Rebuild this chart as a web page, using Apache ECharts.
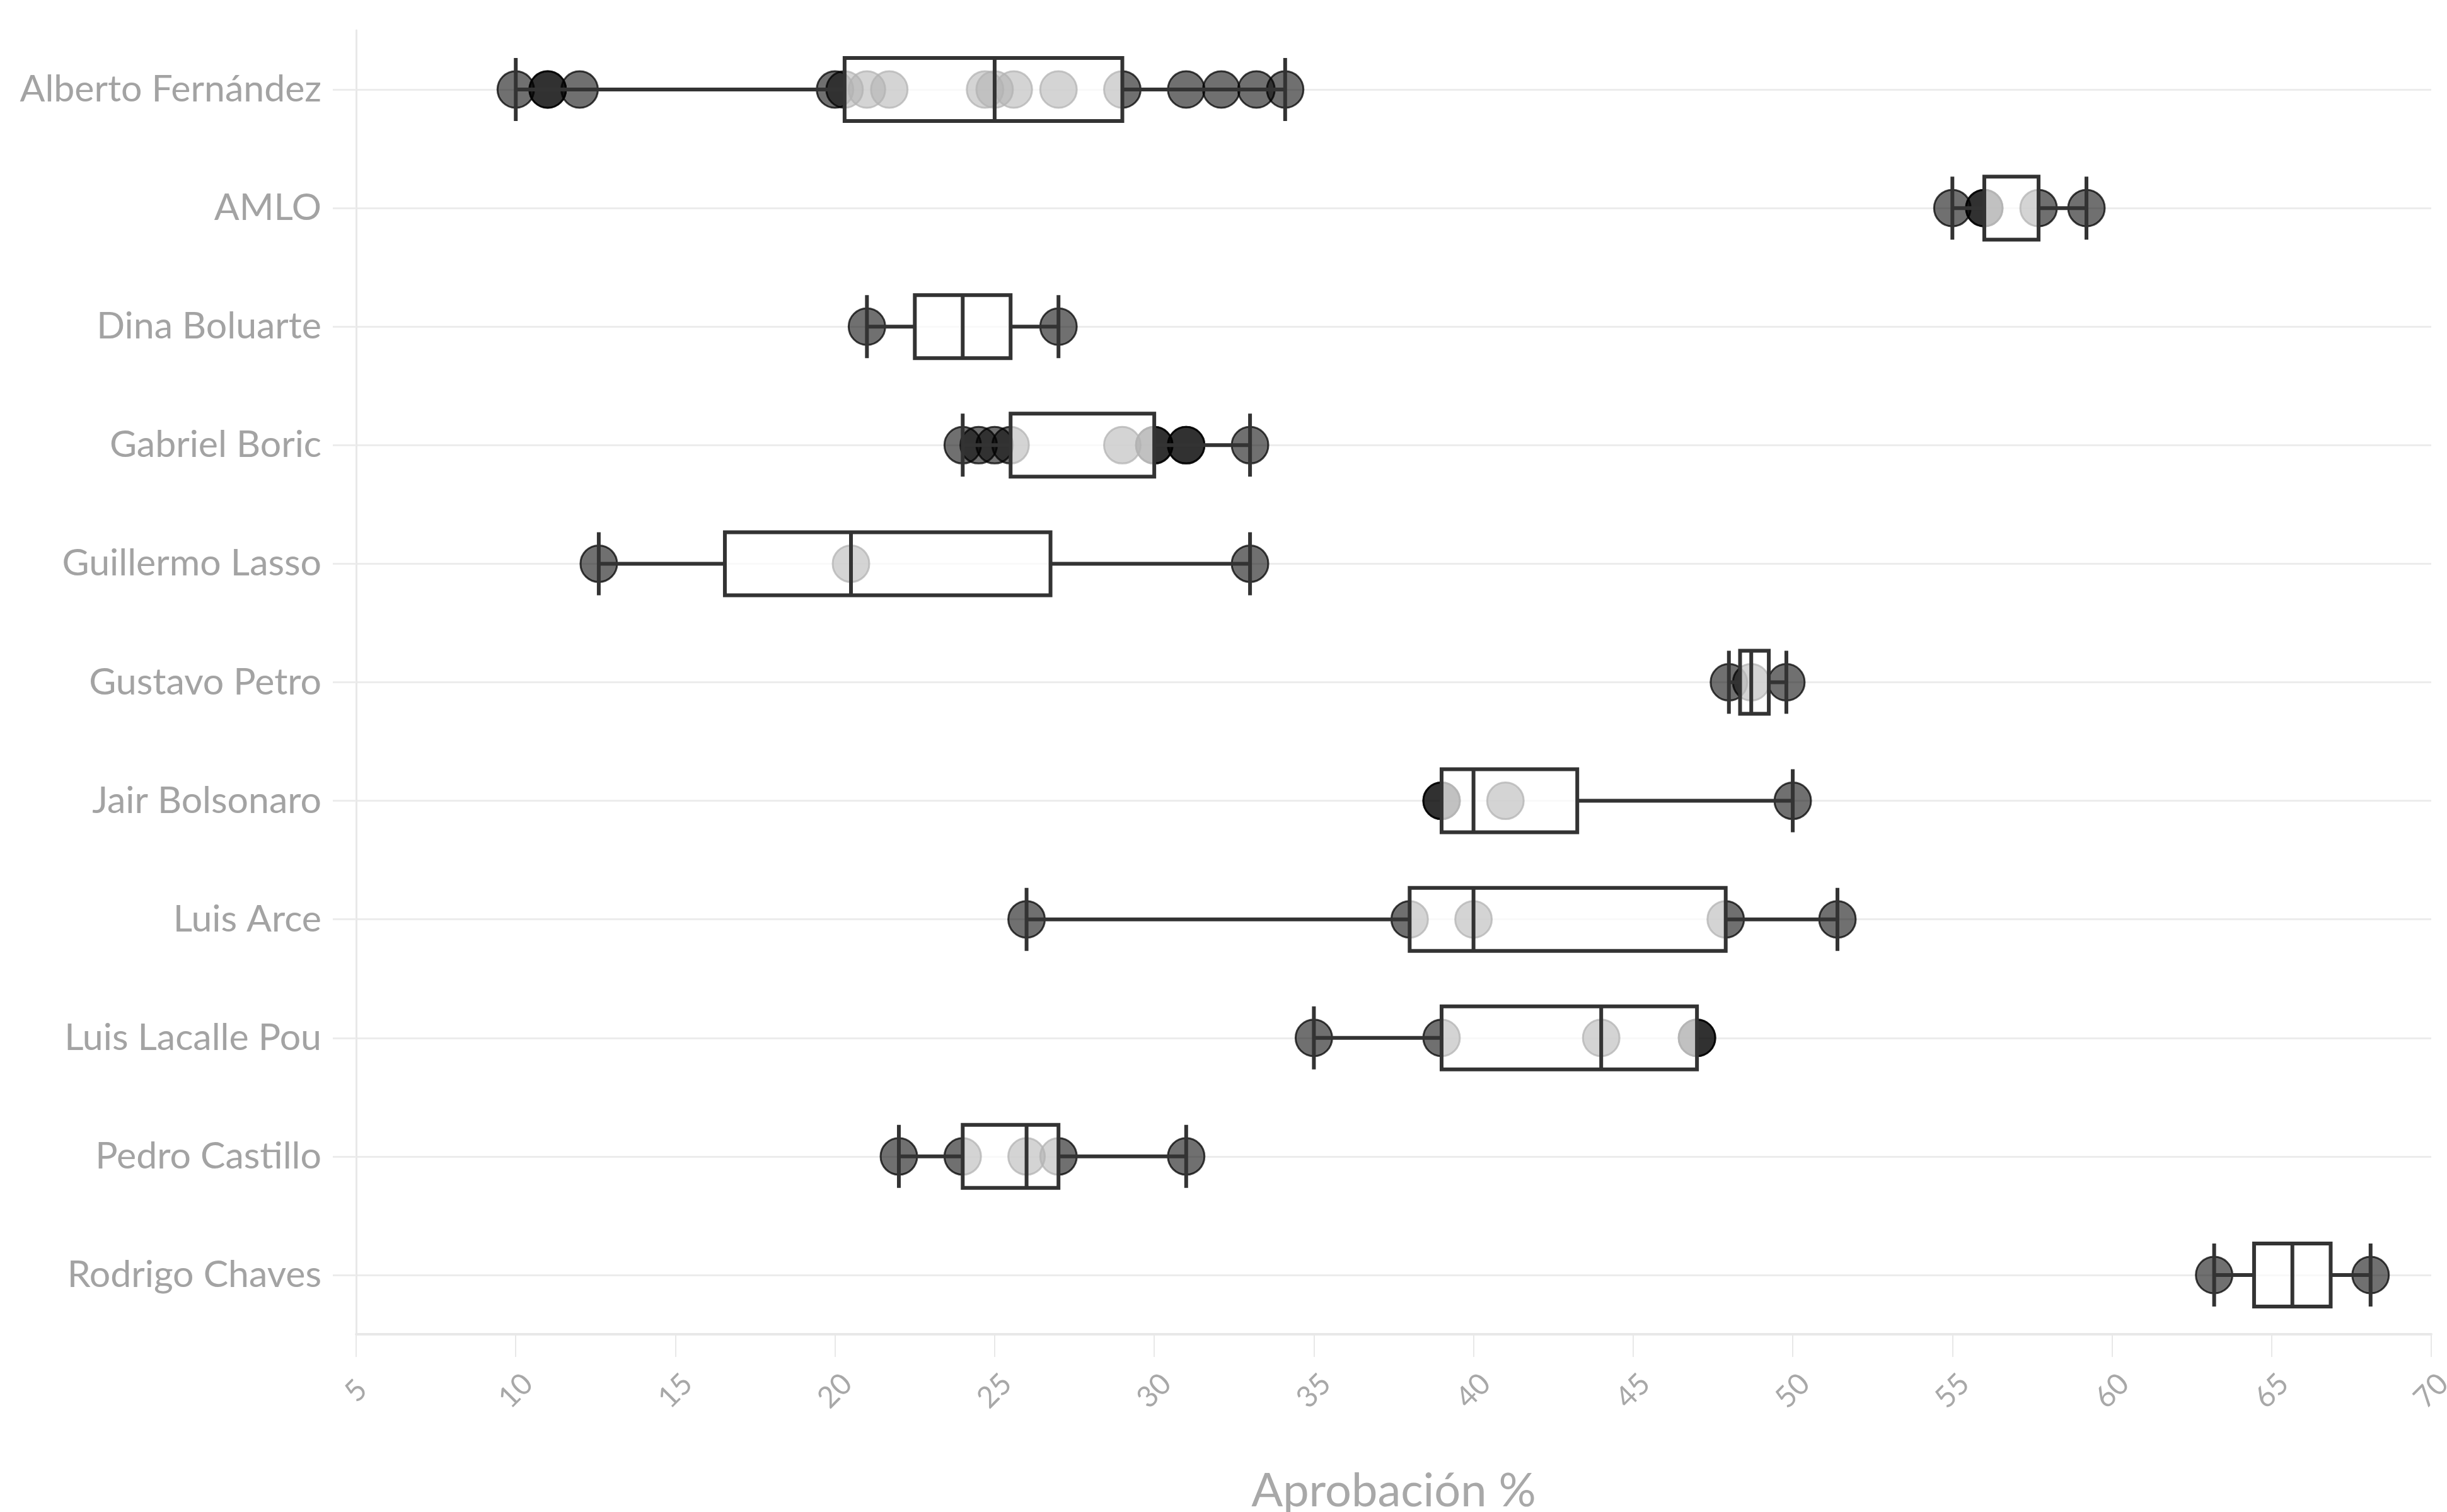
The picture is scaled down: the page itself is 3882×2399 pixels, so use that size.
<!DOCTYPE html>
<html><head><meta charset="utf-8">
<script src="https://cdn.jsdelivr.net/npm/echarts@6/dist/echarts.min.js"></script>
<style>html,body{margin:0;padding:0;background:#fff}#c{width:3882px;height:2399px}</style>
</head><body><div id="c"></div>
<script>
// ---- data ----
const categories = ["Alberto Fernández","AMLO","Dina Boluarte","Gabriel Boric","Guillermo Lasso","Gustavo Petro","Jair Bolsonaro","Luis Arce","Luis Lacalle Pou","Pedro Castillo","Rodrigo Chaves"];
const whiskerLow  = [10,   55,   21,   24,   12.6,  48,    39,    26,   35, 22, 63.2];
const q1          = [20.3, 56,   22.5, 25.5, 16.55, 48.35, 39,    38,   39, 24, 64.45];
const median      = [25,   56,   24,   30,   20.5,  48.7,  40,    40,   44, 26, 65.65];
const q3          = [29,   57.7, 25.5, 30,   26.75, 49.25, 43.25, 47.9, 47, 27, 66.85];
const whiskerHigh = [34.1, 59.2, 27,   33,   33,    49.8,  50,    51.4, 47, 31, 68.1];
const pointValues = [
  [10, 11, 11, 12, 20, 20.3, 21, 21.7, 24.7, 25, 25.6, 27, 29, 31, 32.1, 33.2, 34.1],
  [55, 56, 56, 57.7, 59.2],
  [21, 27],
  [24, 24.5, 25, 25.5, 29, 30, 30, 31, 31, 33],
  [12.6, 20.5, 33],
  [48, 48.7, 49.8],
  [39, 39, 41, 50],
  [26, 38, 40, 47.9, 51.4],
  [35, 39, 44, 47, 47],
  [22, 24, 26, 27, 31],
  [63.2, 68.1]
];
const xTicks = {min: 5, max: 70, interval: 5};
const xName = "Aprobación %";

// ---- build ----
const boxData = categories.map((c, i) => [whiskerLow[i], q1[i], median[i], q3[i], whiskerHigh[i]]);
const scatterData = [];
pointValues.forEach((arr, i) => arr.forEach(v => scatterData.push([v, categories[i]])));

const FONT = '"Source Sans Pro", Lato, "Noto Sans", sans-serif';
const chart = echarts.init(document.getElementById('c'), null, {renderer: 'canvas'});
chart.setOption({
  animation: false,
  backgroundColor: '#ffffff',
  grid: {left: 565, right: 25, top: 48, bottom: 282, containLabel: false, outerBoundsMode: 'none'},
  xAxis: {
    type: 'value', min: xTicks.min, max: xTicks.max, interval: xTicks.interval,
    name: xName, nameLocation: 'middle', nameGap: 212,
    nameTextStyle: {color: '#a8a8a8', fontSize: 74, fontFamily: FONT},
    axisLine: {show: true, lineStyle: {color: '#e8e8e8', width: 4}},
    axisTick: {show: true, length: 36, lineStyle: {color: '#e8e8e8', width: 2}},
    axisLabel: {color: '#a8a8a8', fontSize: 47, fontFamily: FONT, rotate: 45, align: 'center', verticalAlign: 'middle', margin: 90},
    splitLine: {show: false}
  },
  yAxis: {
    type: 'category', data: categories, inverse: true,
    axisLine: {show: true, lineStyle: {color: '#e8e8e8', width: 3}},
    axisTick: {show: true, alignWithLabel: true, length: 37, lineStyle: {color: '#ececec', width: 3}},
    axisLabel: {color: '#a3a3a3', fontSize: 59, fontFamily: FONT, margin: 55},
    splitLine: {show: true, alignWithLabel: true, lineStyle: {color: '#ececec', width: 3}}
  },
  series: [
    {
      type: 'scatter', z: 2,
      data: scatterData,
      symbol: 'circle', symbolSize: 58,
      itemStyle: {color: 'rgba(0,0,0,0.7)', borderColor: 'rgba(0,0,0,0.92)', borderWidth: 3}
    },
    {
      type: 'boxplot', z: 3,
      data: boxData,
      boxWidth: [100, 100],
      itemStyle: {color: 'rgba(255,255,255,0.7)', borderColor: '#333333', borderWidth: 6}
    }
  ]
});
</script></body></html>
